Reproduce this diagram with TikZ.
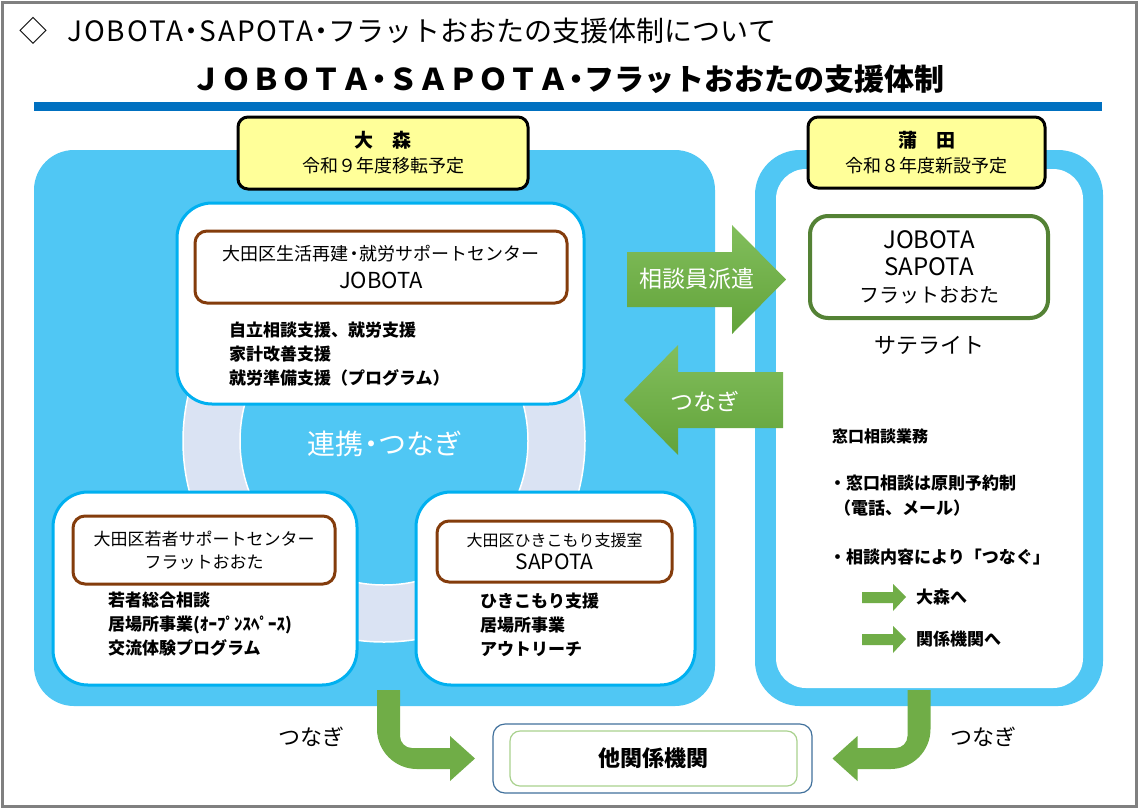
\documentclass[tikz,border=0pt]{standalone}
\usepackage{fontspec}
\setmainfont{Noto Sans CJK JP}
\usepackage{tikz}
\usetikzlibrary{positioning}
\usetikzlibrary{calc}

\definecolor{panelblue}{RGB}{80,199,244}
\definecolor{boxcyan}{RGB}{0,176,240}
\definecolor{ringblue}{RGB}{218,227,243}
\definecolor{brownline}{RGB}{132,60,12}
\definecolor{labelyellow}{RGB}{255,255,153}
\definecolor{arrowgreen}{RGB}{112,173,71}
\definecolor{arrowlight}{RGB}{130,190,92}
\definecolor{arrowdark}{RGB}{98,163,58}
\definecolor{darkgreen}{RGB}{84,130,53}
\definecolor{barblue}{RGB}{0,112,192}
\definecolor{framegray}{RGB}{128,128,128}
\definecolor{steelline}{RGB}{65,113,156}
\definecolor{palegreen}{RGB}{169,209,142}

% narrow middle dot
\newcommand{\nakaguro}{\hspace{-0.22em}・\hspace{-0.22em}}
\newcommand{\widelatin}[1]{{\addfontfeatures{LetterSpace=7}#1}}

\tikzstyle{panel} = [fill=panelblue, rounded corners=40]
\tikzstyle{office} = [draw=boxcyan, line width=3, fill=white, rounded corners=35]
\tikzstyle{namebox} = [draw=brownline, line width=3, fill=white, rounded corners=12, align=center, font=\fontsize{17}{28}\selectfont]
\tikzstyle{sitelabel} = [draw=black, line width=3, fill=labelyellow, rounded corners=10, align=center, font=\fontsize{18}{25}\selectfont]
\tikzstyle{tasks} = [anchor=west, align=left, inner sep=0, font=\bfseries\fontsize{17}{24}\selectfont]
\tikzstyle{note} = [anchor=west, inner sep=0, font=\bfseries\fontsize{17}{22}\selectfont]
\tikzstyle{blockarrow} = [top color=arrowlight, bottom color=arrowdark]
\tikzstyle{bentarrow} = [fill=arrowgreen]

\begin{document}
\begin{tikzpicture}[x=1pt, y=-1pt]
\useasboundingbox (0,0) rectangle (1139,809);
\fill[white] (0,0) rectangle (1139,809);
\draw[framegray, line width=2.5] (2.5,2.5) rectangle (1136.5,806.5);

% headings
\node [anchor=west, inner sep=0, font=\fontsize{28}{32}\selectfont] (heading) at (19,31) {◇\hspace{20pt}\widelatin{JOBOTA}\nakaguro\widelatin{SAPOTA}\nakaguro フラットおおたの支援体制について};
\node [font=\bfseries\fontsize{30}{32}\selectfont] (title) at (568,79) {ＪＯＢＯＴＡ\nakaguro ＳＡＰＯＴＡ\nakaguro フラットおおたの支援体制};
\fill[barblue] (34,102) rectangle (1102,111);

% panels
\node [panel, minimum width=681, minimum height=556] (omori) at (374.5,428) {};
\node [panel, rounded corners=45, minimum width=348, minimum height=556] (kamata) at (929,428) {};
\node [fill=white, rounded corners=30, minimum width=307, minimum height=519] (kamatain) at (929.5,428.5) {};

% ring behind the offices
\draw[fill=ringblue, draw=white, line width=1.5, even odd rule] (384,441) circle (201) (384,441) circle (144);
\node [text=white, font=\fontsize{28}{30}\selectfont] (link) at (385,444) {連携\nakaguro つなぎ};

\node [office, minimum width=407, minimum height=201] (jobotaoffice) at (380.5,303.5) {};
\node [namebox, minimum width=372, minimum height=72, font=\fontsize{18}{28}\selectfont] (jobota) at (381,267) {大田区生活再建\nakaguro 就労サポートセンター\\{\fontsize{22}{28}\selectfont JOBOTA}};
\node [tasks] (jobotatasks) at (229,354) {自立相談支援、就労支援\\家計改善支援\\就労準備支援（プログラム）};

\node [office, minimum width=304, minimum height=193] (flatoffice) at (205,588.5) {};
\node [namebox, minimum width=262, minimum height=68, font=\fontsize{17}{23}\selectfont] (flat) at (204,550) {大田区若者サポートセンター\\フラットおおた};
\node [tasks] (flattasks) at (108,624.5) {若者総合相談\\居場所事業(ｵｰﾌﾟﾝｽﾍﾟｰｽ)\\交流体験プログラム};

\node [office, minimum width=279, minimum height=193] (sapotaoffice) at (555.5,588.5) {};
\node [namebox, minimum width=235, minimum height=61, font=\fontsize{16}{23}\selectfont] (sapota) at (554.5,551.5) {大田区ひきこもり支援室\\{\fontsize{21}{23}\selectfont SAPOTA}};
\node [tasks] (sapotatasks) at (480,625) {ひきこもり支援\\居場所事業\\アウトリーチ};

% site labels
\node [sitelabel, minimum width=290, minimum height=72] (omorilabel) at (383,153) {{\bfseries\fontsize{19}{25}\selectfont 大　森}\\令和９年度移転予定};
\node [sitelabel, minimum width=237, minimum height=71] (kamatalabel) at (926.5,152.5) {{\bfseries\fontsize{19}{25}\selectfont 蒲　田}\\令和８年度新設予定};

% satellite
\node [draw=darkgreen, line width=4, fill=white, rounded corners=18, minimum width=238, minimum height=102, align=center, font=\fontsize{20}{27}\selectfont] (satbox) at (929,267) {{\fontsize{24}{27}\selectfont JOBOTA}\\{\fontsize{24}{27}\selectfont SAPOTA}\\フラットおおた};
\node [below=13pt of satbox, font=\fontsize{22}{26}\selectfont] (sat) {サテライト};

\node [note, font=\bfseries\fontsize{16}{20}\selectfont] (desk) at (832,436) {窓口相談業務};
\node [note] (rule1) at (829,483) {・窓口相談は原則予約制};
\node [note] (rule2) at (834,508) {（電話、メール）};
\node [note] (rule3) at (829,557) {・相談内容により「つなぐ」};
\node [note] (toomori) at (916,597) {大森へ};
\node [note] (toothers) at (916,639) {関係機関へ};
\fill[bentarrow] ($(toomori.west)+(-10,0)$) -- ++(-13,-13) -- ++(0,8) -- ++(-31,0) -- ++(0,11) -- ++(31,0) -- ++(0,8) -- cycle;
\fill[bentarrow] ($(toothers.west)+(-10,0)$) -- ++(-13,-13) -- ++(0,8) -- ++(-31,0) -- ++(0,11) -- ++(31,0) -- ++(0,8) -- cycle;

% block arrows between the sites
\path[blockarrow] (627,252) -- (732,252) -- (732,225) -- (786,279.5) -- (732,334) -- (732,307) -- (627,307) -- cycle;
\node [text=white, font=\fontsize{23}{26}\selectfont] (dispatch) at (697,279) {相談員派遣};
\path[blockarrow] (624,400) -- (678,345) -- (678,372) -- (783,372) -- (783,428) -- (678,428) -- (678,455) -- cycle;
\node [text=white, font=\fontsize{23}{26}\selectfont] (handback) at (705,401) {つなぎ};

% other agencies
\node [draw=steelline, line width=1.2, rounded corners=12, minimum width=319, minimum height=69] (others) at (652.5,758.5) {};
\node [draw=palegreen, line width=1.2, rounded corners=10, minimum width=287, minimum height=55, font=\bfseries\fontsize{22}{26}\selectfont] (othersin) at (653.5,758.5) {他関係機関};

\coordinate (omorifoot) at (377,690);
\coordinate (kamatafoot) at (930.5,690);
\fill[bentarrow] (omorifoot) -- (377,729) arc (180:90:40) -- (450,769) -- (450,781) -- (475,758.5) -- (450,736) -- (450,748) -- (412,748) arc (90:180:12) -- (400,690) -- cycle;
\fill[bentarrow] (kamatafoot) -- (930.5,729) arc (0:90:40) -- (857.5,769) -- (857.5,781) -- (832.5,758.5) -- (857.5,736) -- (857.5,748) -- (895.5,748) arc (90:0:12) -- (907.5,690) -- cycle;
\node [font=\fontsize{22}{26}\selectfont] (leftlink) at (311,737) {つなぎ};
\node [font=\fontsize{22}{26}\selectfont] (rightlink) at (983,737) {つなぎ};
\end{tikzpicture}
\end{document}
